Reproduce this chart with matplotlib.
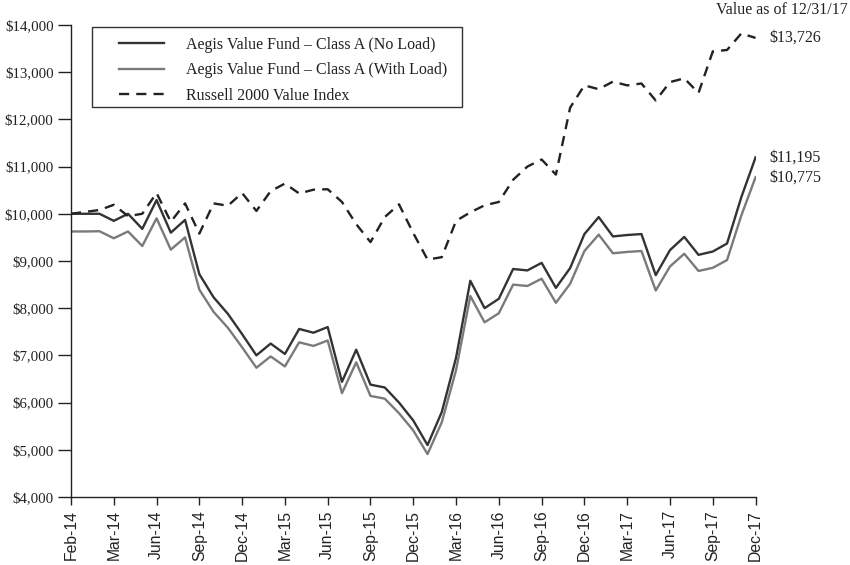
import numpy as np
import matplotlib
matplotlib.use("Agg")
import matplotlib.pyplot as plt
from matplotlib.patches import Rectangle
from matplotlib.ticker import FuncFormatter

# Tick labels (one label every 3 data points)
tick_labels = ["Feb-14", "Mar-14", "Jun-14", "Sep-14", "Dec-14", "Mar-15", "Jun-15",
               "Sep-15", "Dec-15", "Mar-16", "Jun-16", "Sep-16", "Dec-16", "Mar-17",
               "Jun-17", "Sep-17", "Dec-17"]

# Growth of $10,000
no_load = [10000, 10000, 10000, 9850, 10000, 9680, 10290, 9600, 9870, 8720,
           8230, 7880, 7450, 7000, 7250, 7030, 7560, 7480, 7600, 6440,
           7120, 6380, 6320, 6000, 5620, 5100, 5800, 6950, 8580, 8000,
           8200, 8830, 8800, 8960, 8430, 8850, 9570, 9930, 9520, 9550,
           9570, 8700, 9230, 9510, 9130, 9200, 9370, 10350, 11195]

with_load = [9625, 9625, 9630, 9481, 9625, 9317, 9904, 9240, 9500, 8393,
             7921, 7585, 7171, 6738, 6978, 6766, 7277, 7200, 7315, 6199,
             6853, 6141, 6083, 5775, 5409, 4909, 5583, 6689, 8258, 7700,
             7893, 8499, 8470, 8624, 8114, 8518, 9211, 9558, 9163, 9192,
             9211, 8374, 8884, 9153, 8788, 8855, 9019, 9962, 10775]

russell = [10000, 10040, 10080, 10190, 9950, 10000, 10440, 9830, 10220, 9580,
           10220, 10170, 10440, 10060, 10480, 10640, 10430, 10510, 10520, 10250,
           9780, 9400, 9930, 10200, 9590, 9030, 9080, 9850, 10030, 10180,
           10250, 10720, 11000, 11150, 10830, 12250, 12720, 12640, 12800, 12720,
           12760, 12400, 12790, 12870, 12560, 13440, 13470, 13820, 13726]

end_labels = ["$13,726", "$11,195", "$10,775"]
end_values = [13726, 11195, 10775]

x = np.arange(len(no_load))

serif = ["Liberation Serif", "DejaVu Serif"]
sans = ["Liberation Sans", "DejaVu Sans"]
ink = "#222222"

fig = plt.figure(figsize=(8.5, 5.65), dpi=100)
ax = fig.add_axes([0.0835, 0.1204, 0.8054, 0.8354])

ax.plot(x, no_load, color="#333333", linewidth=1.7,
        label="Aegis Value Fund \u2013 Class A (No Load)")
ax.plot(x, with_load, color="#7a7a7a", linewidth=1.7,
        label="Aegis Value Fund \u2013 Class A (With Load)")
ax.plot(x, russell, color=ink, linewidth=1.7, linestyle=(0, (4.3, 3.0)),
        label="Russell 2000 Value Index")

ax.set_xlim(0, len(no_load) - 1)
ax.set_ylim(4000, 14000)
ax.set_xticks(np.arange(0, len(no_load), 3))
ax.set_xticklabels(tick_labels, rotation=90, fontfamily=sans, fontsize=11.3)
ax.set_yticks(np.arange(4000, 14001, 1000))
ax.yaxis.set_major_formatter(FuncFormatter(lambda v, p: "${:,.0f}".format(v)))
for lab in ax.get_yticklabels():
    lab.set_fontfamily(serif)
    lab.set_fontsize(10.7)

for side in ["top", "right"]:
    ax.spines[side].set_visible(False)
for side in ["left", "bottom"]:
    ax.spines[side].set_color(ink)
    ax.spines[side].set_linewidth(1.0)
ax.tick_params(direction="out", width=1.0, color=ink, labelcolor=ink)
ax.tick_params(axis="y", length=9.5, pad=3)
ax.tick_params(axis="x", length=5.5, pad=4)

# legend entries without frame, frame drawn as a box in axes coords
leg = ax.legend(loc="upper left", bbox_to_anchor=(0.0701, 0.9754), frameon=False,
                prop={"family": serif, "size": 11.5},
                handlelength=2.8, handletextpad=1.4, labelspacing=0.6,
                borderpad=0.0, borderaxespad=0.0)
for t in leg.get_texts():
    t.set_color(ink)
ax.add_patch(Rectangle((0.0307, 0.8256), 0.540, 0.1708, transform=ax.transAxes,
                       fill=False, edgecolor="#333333", linewidth=1.0, clip_on=False))

for lab, val in zip(end_labels, end_values):
    ax.annotate(lab, xy=(x[-1], val), xytext=(10, 0), textcoords="offset points",
                ha="left", va="center", fontfamily=serif, fontsize=11.5,
                color=ink, annotation_clip=False)

fig.text(0.92, 0.982, "Value as of 12/31/17", ha="center", va="center",
         fontfamily=serif, fontsize=11.5, color=ink)

fig.savefig("out.png", dpi=100)
